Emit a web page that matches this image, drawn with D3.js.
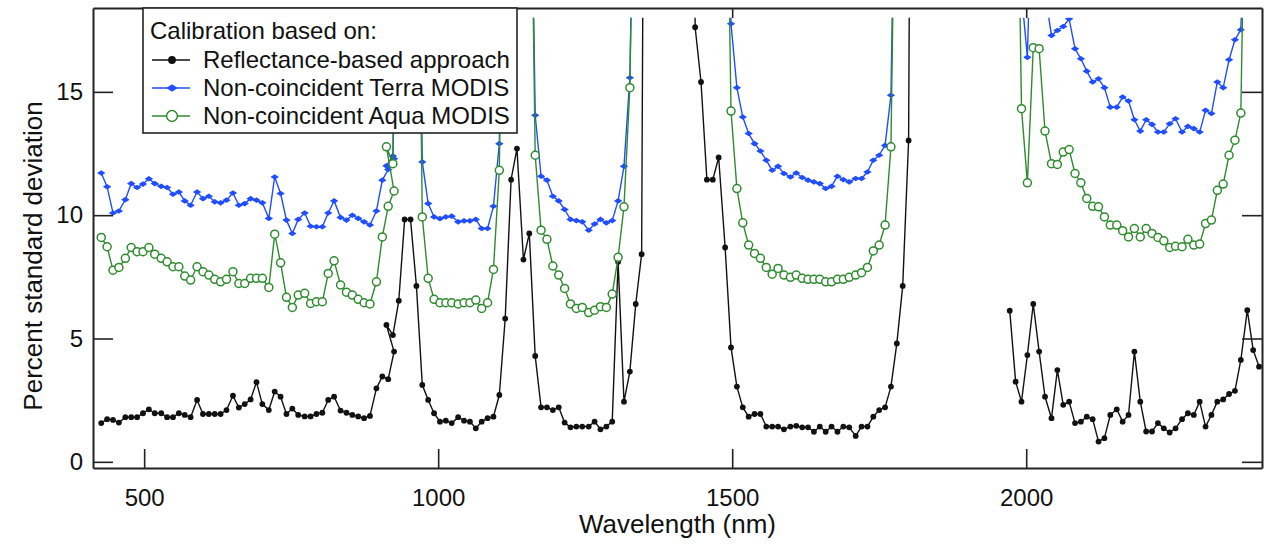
<!DOCTYPE html>
<html>
<head>
<meta charset="utf-8">
<script src="https://cdn.jsdelivr.net/npm/d3@7/dist/d3.min.js"></script>
<style>
  body { margin: 0; background: white; }
  text { font-family: "Liberation Sans", Arial, sans-serif; }
</style>
</head>
<body>
<div id="main-section"></div>
<script>
// band centres (nm): VNIR and SWIR detectors, they overlap around 915-925
const wlVNIR = [427, 437, 447, 457, 468, 478, 488, 498, 508, 518,
  529, 539, 549, 559, 569, 579, 590, 600, 610, 620,
  630, 640, 651, 661, 671, 681, 691, 701, 712, 722,
  732, 742, 752, 762, 773, 783, 793, 803, 813, 823,
  834, 844, 854, 864, 874, 884, 895, 905, 915, 925];

const wlSWIR = [912, 923, 933, 943, 953, 963, 973, 983, 993, 1003,
  1013, 1023, 1034, 1044, 1054, 1064, 1074, 1084, 1094, 1104,
  1114, 1124, 1134, 1145, 1155, 1165, 1175, 1185, 1195, 1205,
  1215, 1225, 1235, 1245, 1256, 1266, 1276, 1286, 1296, 1306,
  1316, 1326, 1336, 1346, 1356, 1367, 1377, 1387, 1397, 1407,
  1417, 1427, 1437, 1447, 1457, 1467, 1477, 1488, 1498, 1508,
  1518, 1528, 1538, 1548, 1558, 1568, 1578, 1588, 1599, 1609,
  1619, 1629, 1639, 1649, 1659, 1669, 1679, 1689, 1699, 1710,
  1720, 1730, 1740, 1750, 1760, 1770, 1780, 1790, 1800, 1810,
  1821, 1831, 1841, 1851, 1861, 1871, 1881, 1891, 1901, 1911,
  1921, 1932, 1942, 1952, 1962, 1972, 1982, 1992, 2002, 2012,
  2022, 2032, 2043, 2053, 2063, 2073, 2083, 2093, 2103, 2113,
  2123, 2133, 2143, 2154, 2164, 2174, 2184, 2194, 2204, 2214,
  2224, 2234, 2244, 2254, 2265, 2275, 2285, 2295, 2305, 2315,
  2325, 2335, 2345, 2355, 2365, 2376, 2386, 2396];

// percent standard deviation, values above ~18 run off the top of the plot
const reflVNIR = [1.57, 1.73, 1.70, 1.59, 1.81, 1.81, 1.81, 1.97, 2.13, 1.97,
  1.97, 1.81, 1.81, 1.97, 1.90, 1.81, 2.51, 1.94, 1.94, 1.94,
  1.94, 2.10, 2.68, 2.20, 2.34, 2.53, 3.23, 2.34, 2.10, 2.85,
  2.64, 1.94, 2.16, 1.90, 1.84, 1.84, 1.94, 1.99, 2.51, 2.64,
  2.08, 1.99, 1.90, 1.84, 1.77, 1.86, 2.98, 3.46, 3.35, 4.47];

const reflSWIR = [5.55, 5.14, 6.53, 9.83, 9.83, 7.13, 3.12, 2.51, 1.97, 1.63,
  1.67, 1.57, 1.81, 1.67, 1.63, 1.36, 1.63, 1.77, 1.83, 2.71,
  5.81, 11.44, 12.70, 8.20, 9.26, 4.29, 2.21, 2.21, 2.10, 2.21,
  1.59, 1.40, 1.43, 1.43, 1.43, 1.63, 1.32, 1.43, 1.63, 8.11,
  2.44, 3.66, 6.40, 8.42, 60, null, null, null, null, null,
  null, 60, 17.62, 15.40, 11.44, 11.44, 12.34, 8.69, 4.64, 3.05,
  2.21, 1.83, 1.94, 1.94, 1.43, 1.43, 1.43, 1.32, 1.43, 1.46,
  1.40, 1.40, 1.22, 1.43, 1.22, 1.43, 1.22, 1.43, 1.40, 1.05,
  1.43, 1.43, 1.83, 2.10, 2.21, 3.05, 4.80, 7.13, 13.03, 60,
  null, null, null, null, null, null, null, null, null, null,
  null, null, null, null, null, 6.13, 3.25, 2.44, 4.33, 6.40,
  4.47, 2.64, 1.77, 3.72, 2.31, 2.44, 1.57, 1.63, 1.83, 1.73,
  0.82, 0.96, 1.90, 2.13, 1.63, 1.90, 4.47, 2.44, 1.23, 1.23,
  1.57, 1.36, 1.19, 1.36, 1.73, 1.97, 1.90, 2.44, 1.43, 1.90,
  2.44, 2.53, 2.75, 2.88, 4.13, 6.15, 4.53, 3.86];

const terraVNIR = [11.71, 11.15, 10.09, 10.17, 10.63, 11.28, 11.12, 11.26, 11.48, 11.28,
  11.17, 11.12, 10.85, 10.94, 10.58, 10.40, 10.94, 10.67, 10.77, 10.54,
  10.50, 10.61, 10.90, 10.40, 10.47, 10.67, 10.61, 10.50, 9.87, 11.55,
  10.88, 9.80, 9.26, 9.83, 10.09, 9.55, 9.53, 9.53, 10.09, 10.58,
  9.91, 9.80, 10.00, 9.87, 9.73, 9.60, 10.17, 11.42, 11.85, 12.29];

const terraSWIR = [12.0, 12.4, 30, null, null, 30, 12.16, 10.47, 9.93, 9.86,
  9.93, 9.96, 9.73, 9.77, 9.77, 9.83, 9.46, 9.46, 10.36, 12.90,
  30, null, null, null, 30, 14.05, 11.58, 11.42, 10.77, 10.58,
  10.23, 9.83, 9.78, 9.73, 9.39, 9.64, 9.83, 9.69, 9.78, 10.58,
  11.98, 15.57, 30, null, null, null, null, null, null, null,
  null, null, null, null, null, null, null, 30, 17.76, 15.17,
  13.98, 13.31, 12.90, 12.60, 12.23, 11.82, 11.98, 11.69, 11.55, 11.71,
  11.53, 11.42, 11.35, 11.28, 11.08, 11.17, 11.58, 11.44, 11.35, 11.49,
  11.49, 11.75, 12.23, 12.43, 12.83, 14.86, 30, null, null, null,
  null, null, null, null, null, null, null, null, null, null,
  null, null, null, null, null, null, null, 19, 16.4, 25,
  25, 19, 17.29, 17.49, 17.65, 17.96, 16.75, 16.34, 15.84, 15.40,
  15.53, 15.17, 14.38, 14.38, 14.79, 14.63, 13.87, 13.41, 13.87, 13.68,
  13.37, 13.37, 13.71, 13.91, 13.37, 13.60, 13.51, 13.37, 14.25, 14.12,
  15.40, 15.17, 16.30, 17.11, 17.52, 25, null, null];

const aquaVNIR = [9.10, 8.72, 7.77, 7.88, 8.25, 8.69, 8.52, 8.52, 8.69, 8.42,
  8.25, 8.11, 7.91, 7.91, 7.53, 7.37, 7.91, 7.71, 7.57, 7.40,
  7.30, 7.40, 7.71, 7.23, 7.23, 7.44, 7.44, 7.44, 7.07, 9.23,
  8.07, 6.67, 6.26, 6.76, 6.83, 6.42, 6.49, 6.49, 7.64, 8.15,
  7.17, 6.88, 6.76, 6.59, 6.45, 6.40, 7.30, 9.12, 10.36, 10.98];

const aquaSWIR = [12.77, 12.09, 30, null, null, 30, 9.93, 7.44, 6.59, 6.45,
  6.45, 6.45, 6.40, 6.45, 6.45, 6.56, 6.22, 6.45, 7.80, 11.82,
  30, null, null, null, 30, 12.43, 9.39, 9.02, 7.94, 7.57,
  7.03, 6.40, 6.22, 6.26, 6.05, 6.15, 6.29, 6.26, 6.80, 8.29,
  10.34, 15.17, 30, null, null, null, null, null, null, null,
  null, null, null, null, null, null, null, 30, 14.22, 11.08,
  9.69, 8.79, 8.45, 8.25, 7.88, 7.61, 7.84, 7.57, 7.48, 7.57,
  7.44, 7.40, 7.40, 7.40, 7.30, 7.30, 7.40, 7.40, 7.48, 7.57,
  7.67, 7.88, 8.55, 8.79, 9.60, 12.77, 30, null, null, null,
  null, null, null, null, null, null, null, null, null, null,
  null, null, null, null, null, null, 30, 14.32, 11.31, 16.79,
  16.75, 13.41, 12.09, 12.06, 12.56, 12.66, 11.69, 11.31, 10.68, 10.36,
  10.34, 9.93, 9.60, 9.60, 9.37, 9.12, 9.46, 9.12, 9.46, 9.26,
  9.10, 8.96, 8.69, 8.74, 8.72, 9.02, 8.79, 8.83, 9.66, 9.80,
  11.01, 11.26, 12.43, 13.04, 14.14, 30, null, null];

const legendTitle = "Calibration based on:";
const seriesNames = ["Reflectance-based approach", "Non-coincident Terra MODIS", "Non-coincident Aqua MODIS"];
const xTicks = [500, 1000, 1500, 2000];
const yTicks = [0, 5, 10, 15];


const W = 1275, H = 550;
const plot = { left: 93, right: 1262, top: 8, bottom: 468 };
const axisColor = "#222";

const svg = d3.select("#main-section")
  .append("svg")
    .attr("width", W)
    .attr("height", H)
    .style("display", "block")
    .style("background-color", "white");

const x = d3.scaleLinear().domain([413, 2401]).range([plot.left, plot.right]);
const y = d3.scaleLinear().domain([-0.25, 18.4]).range([plot.bottom, plot.top]);

// lines are cut at 18 %, a little below the frame
svg.append("defs").append("clipPath")
  .attr("id", "plot-clip")
  .append("rect")
    .attr("x", plot.left)
    .attr("y", y(18))
    .attr("width", plot.right - plot.left)
    .attr("height", plot.bottom - y(18));


function fn_points(vnir, swir) {
  const a = wlVNIR.map(function(w, i) { return { w: w, v: vnir[i] }; });
  const b = wlSWIR.map(function(w, i) { return { w: w, v: swir[i] }; });
  return a.concat(b);
}

const series = [
  { name: seriesNames[0], color: "#111111", marker: "dot",     points: fn_points(reflVNIR, reflSWIR) },
  { name: seriesNames[1], color: "#1f4dff", marker: "diamond", points: fn_points(terraVNIR, terraSWIR) },
  { name: seriesNames[2], color: "#2e8b2e", marker: "ring",    points: fn_points(aquaVNIR, aquaSWIR) }
];

const line = d3.line()
  .defined(function(d) { return d.v !== null; })
  .x(function(d) { return x(d.w); })
  .y(function(d) { return y(d.v); });

function fn_marker(sel, kind, color, big) {
  const k = big ? 1.35 : 1;
  if (kind === "dot") {
    sel.append("circle").attr("r", 2.9 * k).attr("fill", color);
  } else if (kind === "diamond") {
    const hw = 4.2 * k, hh = 2.8 * k;
    sel.append("path")
      .attr("d", "M" + (-hw) + ",0L0," + (-hh) + "L" + hw + ",0L0," + hh + "Z")
      .attr("fill", color);
  } else {
    sel.append("circle").attr("r", 4 * k).attr("fill", "white")
      .attr("stroke", color).attr("stroke-width", 1.5);
  }
}

const marks = svg.append("g").attr("clip-path", "url(#plot-clip)");

series.forEach(function(s) {
  const g = marks.append("g");
  g.append("path")
    .datum(s.points)
    .attr("d", line)
    .attr("fill", "none")
    .attr("stroke", s.color)
    .attr("stroke-width", 1.4)
    .attr("stroke-linejoin", "round");

  g.selectAll("g.pt")
    .data(s.points.filter(function(d) { return d.v !== null && d.v < 19; }))
    .enter()
    .append("g")
      .attr("class", "pt")
      .attr("transform", function(d) { return "translate(" + x(d.w) + "," + y(d.v) + ")"; })
      .each(function() { fn_marker(d3.select(this), s.marker, s.color, false); });
});


// axes: ticks point into the plot on all four sides
function fn_styleAxis(g) {
  g.selectAll("path.domain").attr("stroke", axisColor).attr("stroke-width", 2);
  g.selectAll(".tick line").attr("stroke", axisColor).attr("stroke-width", 1.6);
  g.selectAll(".tick text")
    .attr("fill", "#111")
    .style("font-size", "24px")
    .style("font-family", "'Liberation Sans', Arial, sans-serif");
}

svg.append("g")
  .attr("transform", "translate(0," + plot.bottom + ")")
  .call(d3.axisBottom(x).tickValues(xTicks).tickFormat(d3.format("d"))
    .tickSizeInner(-19).tickSizeOuter(0).tickPadding(21))
  .call(fn_styleAxis);

svg.append("g")
  .attr("transform", "translate(0," + plot.top + ")")
  .call(d3.axisTop(x).tickValues(xTicks).tickSizeInner(-10).tickSizeOuter(0).tickFormat(""))
  .call(fn_styleAxis);

svg.append("g")
  .attr("transform", "translate(" + plot.left + ",0)")
  .call(d3.axisLeft(y).tickValues(yTicks).tickSizeInner(-20).tickSizeOuter(0).tickPadding(10))
  .call(fn_styleAxis);

svg.append("g")
  .attr("transform", "translate(" + plot.right + ",0)")
  .call(d3.axisRight(y).tickValues(yTicks).tickSizeInner(-20).tickSizeOuter(0).tickFormat(""))
  .call(fn_styleAxis);

svg.append("text")
  .attr("x", (plot.left + plot.right) / 2)
  .attr("y", 533)
  .attr("text-anchor", "middle")
  .attr("fill", "#111")
  .style("font-size", "26px")
  .text("Wavelength (nm)");

svg.append("text")
  .attr("transform", "translate(42,256) rotate(-90)")
  .attr("text-anchor", "middle")
  .attr("fill", "#111")
  .style("font-size", "26px")
  .text("Percent standard deviation");


// legend box sits on the top-left of the frame and hides the lines behind it
const legend = svg.append("g").attr("transform", "translate(143," + plot.top + ")");

legend.append("rect")
  .attr("width", 374)
  .attr("height", 125)
  .attr("fill", "white")
  .attr("stroke", axisColor)
  .attr("stroke-width", 1.6);

legend.append("text")
  .attr("x", 7)
  .attr("y", 31)
  .attr("fill", "#111")
  .style("font-size", "24px")
  .text(legendTitle);

series.forEach(function(s, i) {
  const row = legend.append("g").attr("transform", "translate(0," + (52 + i * 28) + ")");
  row.append("line")
    .attr("x1", 9).attr("x2", 47)
    .attr("stroke", s.color).attr("stroke-width", 1.4);
  fn_marker(row.append("g").attr("transform", "translate(29,0)"), s.marker, s.color, true);
  row.append("text")
    .attr("x", 60)
    .attr("y", 8)
    .attr("fill", "#111")
    .style("font-size", "24px")
    .text(s.name);
});
</script>
</body>
</html>
